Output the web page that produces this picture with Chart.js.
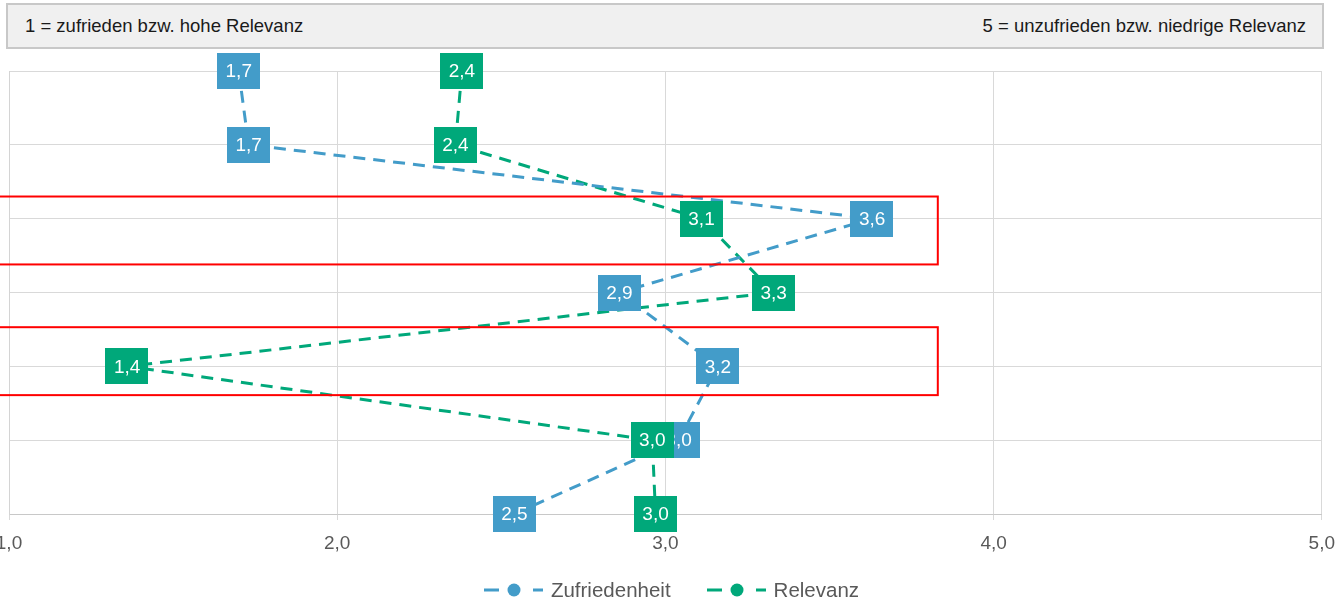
<!DOCTYPE html>
<html>
<head>
<meta charset="utf-8">
<script src="https://cdn.jsdelivr.net/npm/chart.js@4.4.1/dist/chart.umd.min.js"></script>
<style>
  html, body { margin:0; padding:0; background:#fff; width:1341px; height:601px; overflow:hidden; position:relative;
    font-family:"Liberation Sans", Arial, sans-serif; }
  #hdr { position:absolute; left:6px; top:3px; width:1314px; height:42px; border:2px solid #c8c8c8; background:#f0f0f0;
    display:flex; justify-content:space-between; align-items:center; box-sizing:content-box;
    font-size:18.5px; color:#1a1a1a; }
  #hdr .l { padding-left:17px; }
  #hdr .r { padding-right:16px; }
  #wrap { position:absolute; left:-60px; top:0; width:1407px; height:601px; }
  #legend { position:absolute; left:0; width:1341px; top:578px; height:24px; display:flex; justify-content:center;
    align-items:center; font-size:20.5px; color:#595959; padding-left:2px; box-sizing:border-box; }
  #legend .item { display:flex; align-items:center; margin:0 18px; }
  #legend canvas { margin-right:8px; }
</style>
</head>
<body>
<div id="hdr"><span class="l">1 = zufrieden bzw. hohe Relevanz</span><span class="r">5 = unzufrieden bzw. niedrige Relevanz</span></div>
<div id="wrap"><canvas id="c" width="1407" height="601"></canvas></div>
<div id="legend"></div>
<script>
// ---- data ----
const categories = ['Kriterium 1', 'Kriterium 2', 'Kriterium 3', 'Kriterium 4', 'Kriterium 5', 'Kriterium 6', 'Kriterium 7'];
const seriesNames = ['Zufriedenheit', 'Relevanz'];
const zufriedenheit = [1.70, 1.73, 3.63, 2.86, 3.16, 3.04, 2.54];
const relevanz = [2.38, 2.36, 3.11, 3.33, 1.36, 2.96, 2.97];
const xTickValues = [1, 2, 3, 4, 5];
const highlightedRows = [2, 4];

// ---- styles ----
const BLUE = '#439cc9';
const GREEN = '#00a87a';
const FONT = '"Liberation Sans", Arial, sans-serif';
// highlight box extents relative to the highlighted row (in row units) and right end in x units
const highlightExtent = [[-0.30, 0.62], [-0.53, 0.39]];
const highlightRightX = 3.83;

const fmt = v => v.toFixed(1).replace('.', ',');

const overlay = {
  id: 'overlay',
  afterDatasetsDraw(chart) {
    const ctx = chart.ctx;
    const xs = chart.scales.x, ys = chart.scales.y;
    ctx.save();
    // red highlight boxes
    ctx.strokeStyle = '#ff0000';
    ctx.lineWidth = 2;
    highlightedRows.forEach((row, i) => {
      const t = ys.getPixelForValue(row + highlightExtent[i][0]);
      const b = ys.getPixelForValue(row + highlightExtent[i][1]);
      const l = xs.getPixelForValue(0);
      const r = xs.getPixelForValue(highlightRightX);
      ctx.strokeRect(l, t, r - l, b - t);
    });
    // value boxes
    ctx.font = '19px ' + FONT;
    ctx.textAlign = 'center';
    ctx.textBaseline = 'middle';
    chart.data.datasets.forEach((ds, d) => {
      const meta = chart.getDatasetMeta(d);
      meta.data.forEach((pt, i) => {
        const txt = fmt(ds.data[i]);
        const w = ctx.measureText(txt).width + 17;
        const h = 36;
        ctx.fillStyle = ds.borderColor;
        ctx.fillRect(Math.round(pt.x - w / 2), Math.round(pt.y - h / 2), Math.round(w), h);
        ctx.fillStyle = '#ffffff';
        ctx.fillText(txt, pt.x, pt.y + 1);
      });
    });
    ctx.restore();
  }
};

const chart = new Chart(document.getElementById('c'), {
  type: 'line',
  data: {
    labels: categories,
    datasets: [
      { label: seriesNames[0], data: zufriedenheit, borderColor: BLUE, backgroundColor: BLUE },
      { label: seriesNames[1], data: relevanz, borderColor: GREEN, backgroundColor: GREEN }
    ]
  },
  options: {
    indexAxis: 'y',
    responsive: false,
    animation: false,
    devicePixelRatio: 1,
    layout: { padding: { top: 71, left: 69, right: 16, bottom: 34.2 } },
    elements: {
      line: { borderWidth: 3, borderDash: [12, 8], tension: 0, fill: false },
      point: { radius: 0, hoverRadius: 0 }
    },
    plugins: { legend: { display: false }, tooltip: { enabled: false } },
    scales: {
      x: {
        type: 'linear', min: 1, max: 5,
        afterBuildTicks: s => { s.ticks = xTickValues.map(v => ({ value: v })); },
        ticks: { callback: v => fmt(v), color: '#595959', font: { size: 19, family: FONT }, padding: 12, maxRotation: 0 },
        grid: { color: '#d9d9d9', tickLength: 6, drawTicks: true },
        border: { color: '#c8c8c8' }
      },
      y: {
        type: 'category', offset: false,
        ticks: { display: false },
        grid: { color: '#d9d9d9', drawTicks: false },
        border: { color: '#d4d4d4' }
      }
    }
  },
  plugins: [overlay]
});

// legend (HTML)
function icon(color) {
  const c = document.createElement('canvas');
  c.width = 59; c.height = 14;
  const g = c.getContext('2d');
  g.fillStyle = color;
  g.fillRect(0, 5.5, 15, 3);
  g.beginPath(); g.arc(30, 7, 6.5, 0, Math.PI * 2); g.fill();
  g.fillRect(49, 5.5, 10, 3);
  return c;
}
const lg = document.getElementById('legend');
[[seriesNames[0], BLUE], [seriesNames[1], GREEN]].forEach(([name, col]) => {
  const it = document.createElement('div'); it.className = 'item';
  it.appendChild(icon(col));
  const s = document.createElement('span'); s.textContent = name; it.appendChild(s);
  lg.appendChild(it);
});
</script>
</body>
</html>
